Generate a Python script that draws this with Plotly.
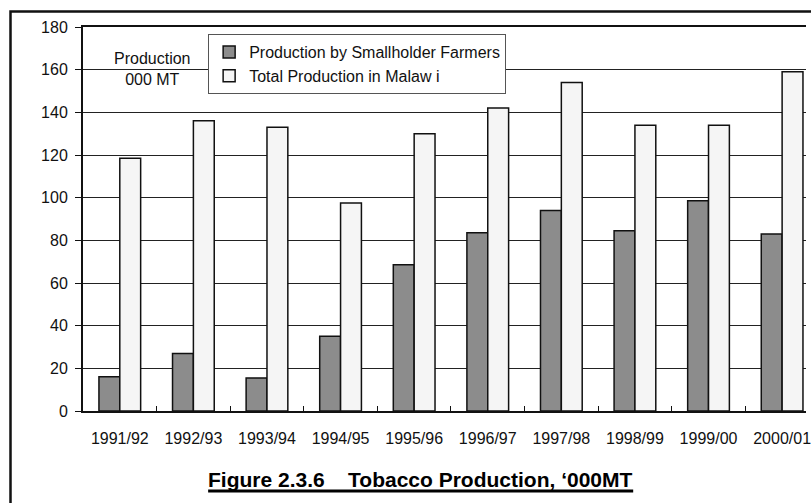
import plotly.graph_objects as go

# Tobacco production by season, thousand metric tonnes
seasons = ["1991/92", "1992/93", "1993/94", "1994/95", "1995/96",
           "1996/97", "1997/98", "1998/99", "1999/00", "2000/01"]
smallholder = [16, 27, 15.5, 35, 68.5, 83.5, 94, 84.5, 98.5, 83]
total_malawi = [118.5, 136, 133, 97.5, 130, 142, 154, 134, 134, 159]
y_ticks = [0, 20, 40, 60, 80, 100, 120, 140, 160, 180]

FONT = "Arial, 'Liberation Sans', sans-serif"

# pixel layout of the plotting area
W, H = 811, 503
ML, MT, MB, MR = 83, 27, 92, 0
plot_w = W - ML - MR
plot_h = H - MT - MB
cat_px = 74.1  # width of one season slot
x_max = -0.5 + plot_w / cat_px


def px_x(p):
    return (p - ML) / plot_w


def px_y(p):
    return (H - MB - p) / plot_h


fig = go.Figure()
fig.add_bar(
    x=seasons, y=smallholder, name="Production by Smallholder Farmers",
    marker=dict(color="#8c8c8c", line=dict(color="#111111", width=1.5)),
)
fig.add_bar(
    x=seasons, y=total_malawi, name="Total Production in Malaw i",
    marker=dict(color="#f5f5f5", line=dict(color="#111111", width=1.5)),
)

fig.update_layout(
    width=W, height=H,
    margin=dict(l=ML, r=MR, t=MT, b=MB, pad=0),
    paper_bgcolor="white", plot_bgcolor="white",
    barmode="group", bargap=1 - 42 / cat_px, bargroupgap=0,
    font=dict(family=FONT, size=16, color="#111111"),
    showlegend=True,
    legend=dict(
        x=px_x(209), y=px_y(34), xanchor="left", yanchor="top",
        bgcolor="white", bordercolor="#555555", borderwidth=1,
        font=dict(family=FONT, size=16, color="#111111"),
        tracegroupgap=0, entrywidth=262,
    ),
)

fig.update_xaxes(
    type="category", range=[-0.5, x_max],
    showline=True, linecolor="#111111", linewidth=2, mirror=True,
    ticks="inside", tickson="boundaries", ticklen=5, tickcolor="#111111",
    ticklabelstandoff=12, showgrid=False,
    tickfont=dict(family=FONT, size=16, color="#111111"),
)
fig.update_yaxes(
    range=[0, 180], tickvals=y_ticks,
    showline=True, linecolor="#111111", linewidth=2,
    ticks="outside", ticklen=6, tickcolor="#111111",
    ticklabelstandoff=4,
    showgrid=True, gridcolor="#222222", gridwidth=1,
    zeroline=False,
    tickfont=dict(family=FONT, size=16, color="#111111"),
)

# white panel behind the unit label, hiding the grid line there
fig.add_shape(
    type="rect", xref="paper", yref="paper", layer="between",
    x0=px_x(93), x1=px_x(213), y0=px_y(98), y1=px_y(35),
    fillcolor="white", line=dict(width=0),
)
fig.add_annotation(
    text="Production<br>000 MT", xref="paper", yref="paper",
    x=px_x(153), y=px_y(69), xanchor="center", yanchor="middle",
    showarrow=False,
    font=dict(family=FONT, size=16, color="#111111"),
)

# figure caption with a heavy underline
fig.add_annotation(
    text="<b>Figure 2.3.6\u00a0\u00a0\u00a0\u00a0Tobacco Production, \u2018000MT</b>",
    xref="paper", yref="paper", x=px_x(423), y=px_y(479),
    xanchor="center", yanchor="middle",
    showarrow=False, font=dict(family=FONT, size=21, color="#000000"),
)
fig.add_shape(
    type="line", xref="paper", yref="paper", layer="above",
    x0=px_x(209), x1=px_x(637), y0=px_y(491), y1=px_y(491),
    line=dict(color="#000000", width=3),
)

# outer frame of the chart
fig.add_shape(
    type="rect", xref="paper", yref="paper", layer="above",
    x0=px_x(10), x1=px_x(W + 40), y0=px_y(H + 40), y1=px_y(11.5),
    line=dict(color="#111111", width=2.5), fillcolor="rgba(0,0,0,0)",
)

fig.write_html("out.html")
